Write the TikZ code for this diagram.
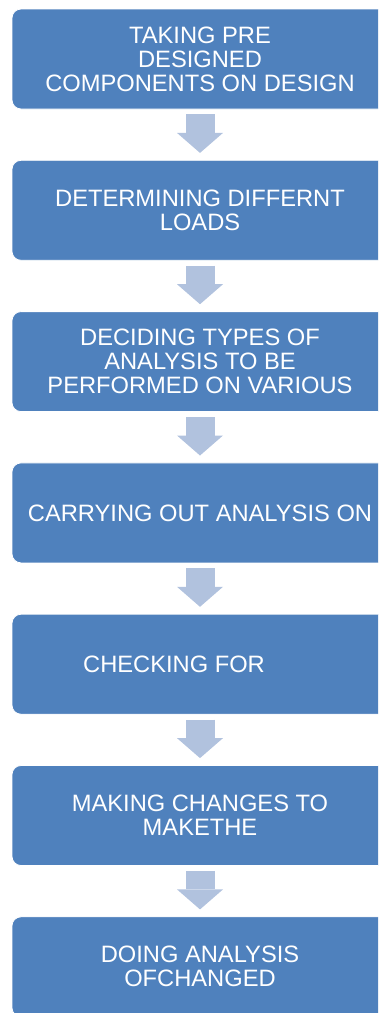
\documentclass[tikz,border=0pt]{standalone}
\usepackage{fontspec}
\setmainfont{Liberation Sans}
\usetikzlibrary{positioning,arrows.meta}

\definecolor{stageblue}{HTML}{4F81BD}
\definecolor{arrowblue}{HTML}{B1C2DE}

\tikzset{
  stagebox/.style={rectangle, rounded corners=9pt, fill=stageblue, draw=white,
    line width=0.8pt, minimum width=376pt, minimum height=100pt, inner sep=0pt,
    text=white, align=center, font=\fontsize{23.7}{24}\selectfont},
  flowarrow/.style={draw=arrowblue, line width=29pt,
    -{Triangle[length=20pt,width=46pt,line width=0pt]},
    shorten <=5pt, shorten >=7pt}
}

\begin{document}
\begin{tikzpicture}[x=1pt,y=1pt,node distance=50.5pt]
    \useasboundingbox (0,0) rectangle (378,-1013);
    \clip (0,0) rectangle (378,-1013);
    % Stages
    \node[stagebox] (s1) at (200,-59) {TAKING PRE\\DESIGNED\\COMPONENTS ON DESIGN};
    \node[stagebox, below=of s1] (s2) {DETERMINING DIFFERNT\\LOADS};
    \node[stagebox, below=of s2] (s3) {DECIDING TYPES OF\\ANALYSIS TO BE\\PERFORMED ON VARIOUS};
    \node[stagebox, below=of s3] (s4) {CARRYING OUT ANALYSIS ON};
    \node[stagebox, below=of s4] (s5) {CHECKING FOR\hspace*{52pt}};
    \node[stagebox, below=of s5] (s6) {MAKING CHANGES TO\\MAKETHE};
    \node[stagebox, below=of s6] (s7) {DOING ANALYSIS\\OFCHANGED};
    % Arrows between stages
    \foreach \a/\b in {s1/s2,s2/s3,s3/s4,s4/s5,s5/s6,s6/s7} {
        \draw[flowarrow] (\a) -- (\b);
    }
\end{tikzpicture}
\end{document}
